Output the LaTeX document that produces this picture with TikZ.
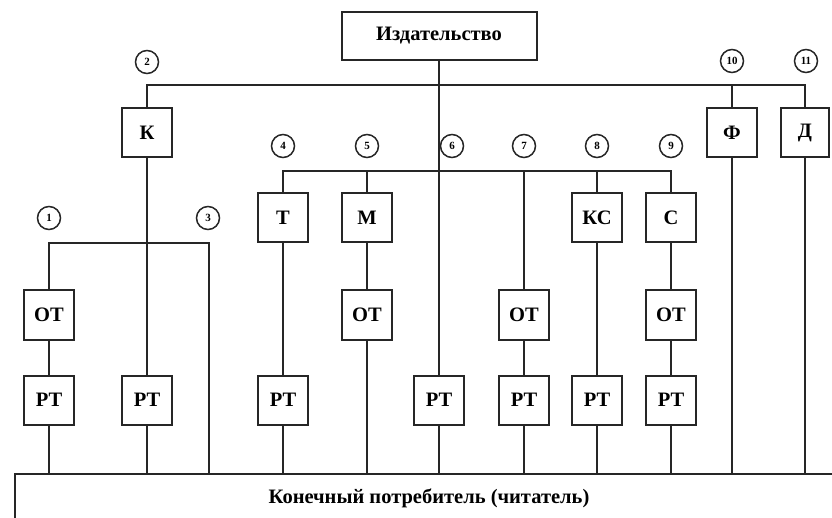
\documentclass[tikz,border=0pt]{standalone}
\usepackage{fontspec}
\setmainfont{Liberation Serif}
\tikzset{
  box/.style={draw=black!85, line width=2pt, minimum width=50pt, minimum height=49pt,
    inner sep=0pt, font=\fontsize{20.5}{22}\selectfont\bfseries},
  num/.style={draw=black!85, circle, line width=1.5pt, minimum size=23pt, inner sep=0pt,
    font=\fontsize{11}{12}\selectfont\bfseries},
  link/.style={draw=black!85, line width=1.5pt}
}
\begin{document}
\begin{tikzpicture}[x=1pt,y=-1pt]
  \useasboundingbox (0,0) rectangle (832,518);

  % издательство
  \node[box, minimum width=195pt, minimum height=48pt] (pub) at (439,36) {Издательство};

  % верхний ряд
  \node[box] (k) at (147,133) {К};
  \node[box] (f) at (732,133) {Ф};
  \node[box, minimum width=48pt] (d) at (805,133) {Д};

  % средний ряд
  \node[box] (t) at (283,218) {Т};
  \node[box] (m) at (367,218) {М};
  \node[box] (ks) at (597,218) {КС};
  \node[box] (s) at (671,218) {С};

  % оптовая торговля
  \node[box] (ot1) at (49,315) {ОТ};
  \node[box] (ot5) at (367,315) {ОТ};
  \node[box] (ot7) at (524,315) {ОТ};
  \node[box] (ot9) at (671,315) {ОТ};

  % розничная торговля
  \node[box] (rt1) at (49,400) {РТ};
  \node[box] (rt2) at (147,400) {РТ};
  \node[box] (rt4) at (283,400) {РТ};
  \node[box] (rt6) at (439,400) {РТ};
  \node[box] (rt7) at (524,400) {РТ};
  \node[box] (rt8) at (597,400) {РТ};
  \node[box] (rt9) at (671,400) {РТ};

  % потребитель
  \node[box, anchor=north west, minimum width=860pt, minimum height=100pt] (cons) at (14,473) {};
  \node[font=\fontsize{20.5}{22}\selectfont\bfseries] (constext) at (429,498) {Конечный потребитель (читатель)};

  % номера каналов
  \node[num] (n1) at (49,218) {1};
  \node[num] (n2) at (147,62) {2};
  \node[num] (n3) at (208,218) {3};
  \node[num] (n4) at (283,146) {4};
  \node[num] (n5) at (367,146) {5};
  \node[num] (n6) at (452,146) {6};
  \node[num] (n7) at (524,146) {7};
  \node[num] (n8) at (597,146) {8};
  \node[num] (n9) at (671,146) {9};
  \node[num] (n10) at (732,61) {10};
  \node[num] (n11) at (806,61) {11};

  % узлы шин
  \coordinate (b2) at (147,85);
  \coordinate (b11) at (805,85);
  \coordinate (b4) at (283,171);
  \coordinate (b9) at (671,171);
  \coordinate (b1) at (49,243);
  \coordinate (b3) at (209,243);

  % связи
  \draw[link] (pub) -- (rt6);
  \draw[link] (k) -- (b2) -- (b11) -- (d);
  \draw[link] (f) -- (f |- b2);
  \draw[link] (t) -- (b4) -- (b9) -- (s);
  \draw[link] (m) -- (m |- b4);
  \draw[link] (ks) -- (ks |- b4);
  \draw[link] (ot7) -- (ot7 |- b4);
  \draw[link] (ot1) -- (b1) -- (b3) -- (b3 |- cons.north);
  \draw[link] (k) -- (rt2);
  \draw[link] (t) -- (rt4);
  \draw[link] (m) -- (ot5);
  \draw[link] (s) -- (ot9);
  \draw[link] (ks) -- (rt8);
  \draw[link] (ot1) -- (rt1);
  \draw[link] (ot7) -- (rt7);
  \draw[link] (ot9) -- (rt9);
  \draw[link] (ot5) -- (ot5 |- cons.north);
  \draw[link] (f) -- (f |- cons.north);
  \draw[link] (d) -- (d |- cons.north);
  \foreach \r in {rt1,rt2,rt4,rt6,rt7,rt8,rt9}
    \draw[link] (\r) -- (\r |- cons.north);
\end{tikzpicture}
\end{document}
